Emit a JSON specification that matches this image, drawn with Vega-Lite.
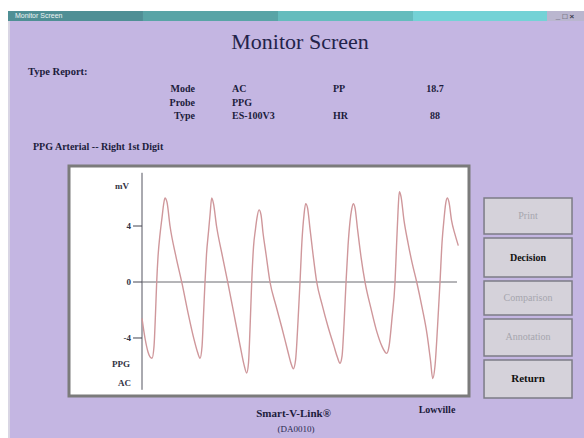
{
  "$schema": "https://vega.github.io/schema/vega-lite/v6.json",
  "width": 400,
  "height": 230,
  "autosize": {"type": "none"},
  "padding": {"left": 69, "top": 166, "right": 115, "bottom": 42},
  "background": "#c4b6e2",
  "config": {
    "view": {"fill": "white", "stroke": "#7b7b7b", "strokeWidth": 3},
    "text": {"font": "Liberation Serif", "color": "#1c1c3c"}
  },
  "datasets": {
    "wave": [
      {"t": 0.000, "v": -2.6}, {"t": 0.043, "v": -4.0}, {"t": 0.087, "v": -5.0}, {"t": 0.116, "v": -5.35}, {"t": 0.145, "v": -5.45},
      {"t": 0.174, "v": -4.6}, {"t": 0.196, "v": -2.2}, {"t": 0.213, "v": 0}, {"t": 0.232, "v": 1.8}, {"t": 0.261, "v": 3.4},
      {"t": 0.290, "v": 4.6}, {"t": 0.312, "v": 5.5}, {"t": 0.333, "v": 6.0}, {"t": 0.362, "v": 5.7}, {"t": 0.406, "v": 4.0},
      {"t": 0.493, "v": 1.8}, {"t": 0.580, "v": -0.1}, {"t": 0.667, "v": -2.2}, {"t": 0.754, "v": -4.1}, {"t": 0.804, "v": -5.0},
      {"t": 0.841, "v": -5.45},
      {"t": 0.870, "v": -4.6}, {"t": 0.891, "v": -2.4}, {"t": 0.913, "v": 0}, {"t": 0.935, "v": 2.0}, {"t": 0.964, "v": 3.6},
      {"t": 0.986, "v": 4.8}, {"t": 1.010, "v": 6.0}, {"t": 1.036, "v": 5.6}, {"t": 1.080, "v": 4.0}, {"t": 1.159, "v": 2.0},
      {"t": 1.246, "v": -0.1}, {"t": 1.333, "v": -2.3}, {"t": 1.420, "v": -4.5}, {"t": 1.478, "v": -5.9}, {"t": 1.517, "v": -6.5},
      {"t": 1.543, "v": -5.8}, {"t": 1.565, "v": -3.4}, {"t": 1.590, "v": 0}, {"t": 1.616, "v": 2.5}, {"t": 1.645, "v": 3.8},
      {"t": 1.667, "v": 4.6}, {"t": 1.696, "v": 5.15}, {"t": 1.725, "v": 4.8}, {"t": 1.754, "v": 3.5}, {"t": 1.797, "v": 2.0},
      {"t": 1.855, "v": 0}, {"t": 1.942, "v": -1.7}, {"t": 2.029, "v": -3.3}, {"t": 2.116, "v": -5.0}, {"t": 2.159, "v": -5.8},
      {"t": 2.193, "v": -6.2},
      {"t": 2.225, "v": -5.6}, {"t": 2.261, "v": -2.8}, {"t": 2.290, "v": 0}, {"t": 2.319, "v": 3.0}, {"t": 2.348, "v": 4.8},
      {"t": 2.372, "v": 5.6}, {"t": 2.399, "v": 5.3}, {"t": 2.435, "v": 3.8}, {"t": 2.478, "v": 2.0}, {"t": 2.532, "v": 0},
      {"t": 2.609, "v": -1.6}, {"t": 2.696, "v": -3.2}, {"t": 2.783, "v": -4.6}, {"t": 2.833, "v": -5.4}, {"t": 2.870, "v": -5.8},
      {"t": 2.899, "v": -5.3}, {"t": 2.928, "v": -3.0}, {"t": 2.957, "v": 0}, {"t": 2.986, "v": 2.6}, {"t": 3.014, "v": 4.3},
      {"t": 3.039, "v": 5.2}, {"t": 3.062, "v": 5.6}, {"t": 3.087, "v": 5.3}, {"t": 3.123, "v": 3.8}, {"t": 3.174, "v": 1.8},
      {"t": 3.232, "v": 0}, {"t": 3.319, "v": -1.9}, {"t": 3.406, "v": -3.6}, {"t": 3.478, "v": -4.6}, {"t": 3.522, "v": -5.0},
      {"t": 3.546, "v": -5.1},
      {"t": 3.580, "v": -4.6}, {"t": 3.623, "v": -2.6}, {"t": 3.667, "v": 0}, {"t": 3.688, "v": 2.5}, {"t": 3.710, "v": 5.0},
      {"t": 3.729, "v": 6.45}, {"t": 3.754, "v": 6.1}, {"t": 3.797, "v": 4.4}, {"t": 3.855, "v": 2.8}, {"t": 3.913, "v": 1.4},
      {"t": 3.981, "v": 0}, {"t": 4.058, "v": -1.8}, {"t": 4.130, "v": -3.7}, {"t": 4.181, "v": -5.6}, {"t": 4.213, "v": -6.9},
      {"t": 4.246, "v": -6.0}, {"t": 4.283, "v": -3.2}, {"t": 4.319, "v": 0}, {"t": 4.348, "v": 2.8}, {"t": 4.377, "v": 4.5},
      {"t": 4.401, "v": 5.6}, {"t": 4.425, "v": 6.0}, {"t": 4.449, "v": 5.7}, {"t": 4.486, "v": 4.4}, {"t": 4.536, "v": 3.4},
      {"t": 4.584, "v": 2.6}
    ],
    "ticks": [{"v": 4, "lab": "4"}, {"v": 0, "lab": "0"}, {"v": -4, "lab": "-4"}],
    "one": [{"k": 1}]
  },
  "data": {"name": "one"},
  "layer": [
    {"mark": {"type": "rect", "color": "white"},
     "encoding": {"x": {"datum": -2.058, "axis": null}, "x2": {"datum": 6.406}, "y": {"datum": 20.143, "axis": null}, "y2": {"datum": 19.357}}},
    {"mark": {"type": "rect", "color": "white"},
     "encoding": {"x": {"datum": -2.058, "axis": null}, "x2": {"datum": -1.942}, "y": {"datum": 20.143, "axis": null}, "y2": {"datum": -11.143}}},
    {"mark": {"type": "rect", "color": "#d9d6e4"},
     "encoding": {"x": {"datum": -1.942, "axis": null}, "x2": {"datum": -1.913}, "y": {"datum": 19.357, "axis": null}, "y2": {"datum": -11.143}}},
    {"mark": {"type": "rect", "color": "#4f8f95"},
     "encoding": {"x": {"datum": -1.942, "axis": null}, "x2": {"datum": 0.014}, "y": {"datum": 19.357, "axis": null}, "y2": {"datum": 18.643}}},
    {"mark": {"type": "rect", "color": "#59a4a6"},
     "encoding": {"x": {"datum": 0.014, "axis": null}, "x2": {"datum": 1.971}, "y": {"datum": 19.357, "axis": null}, "y2": {"datum": 18.643}}},
    {"mark": {"type": "rect", "color": "#65bcbd"},
     "encoding": {"x": {"datum": 1.971, "axis": null}, "x2": {"datum": 3.928}, "y": {"datum": 19.357, "axis": null}, "y2": {"datum": 18.643}}},
    {"mark": {"type": "rect", "color": "#74d2d6"},
     "encoding": {"x": {"datum": 3.928, "axis": null}, "x2": {"datum": 5.870}, "y": {"datum": 19.357, "axis": null}, "y2": {"datum": 18.643}}},
    {"mark": {"type": "rect", "color": "#bab6cf"},
     "encoding": {"x": {"datum": 5.870, "axis": null}, "x2": {"datum": 6.406}, "y": {"datum": 19.357, "axis": null}, "y2": {"datum": 18.643}}},
    {"mark": {"type": "text", "text": "Monitor Screen", "font": "Liberation Sans", "fontSize": 7, "color": "#eef4f4", "align": "left", "baseline": "middle"},
     "encoding": {"x": {"datum": -1.841, "axis": null}, "y": {"datum": 19.0, "axis": null}}},
    {"mark": {"type": "text", "text": "_ \u25a1 \u00d7", "font": "Liberation Sans", "fontSize": 8, "fontWeight": "bold", "color": "#3a3a4a", "align": "center", "baseline": "middle"},
     "encoding": {"x": {"datum": 6.130, "axis": null}, "y": {"datum": 18.95, "axis": null}}},
    {"mark": {"type": "text", "text": "Monitor Screen", "fontSize": 22, "color": "#23234a", "align": "center", "baseline": "middle"},
     "encoding": {"x": {"datum": 2.290, "axis": null}, "y": {"datum": 17.143, "axis": null}}},
    {"mark": {"type": "text", "text": "Type Report:", "fontSize": 10.5, "fontWeight": "bold", "align": "left", "baseline": "middle"},
     "encoding": {"x": {"datum": -1.652, "axis": null}, "y": {"datum": 15.0, "axis": null}}},
    {"mark": {"type": "text", "text": ["Mode", "Probe", "Type"], "lineHeight": 13.5, "fontSize": 10, "fontWeight": "bold", "align": "right", "baseline": "middle"},
     "encoding": {"x": {"datum": 0.768, "axis": null}, "y": {"datum": 13.76, "axis": null}}},
    {"mark": {"type": "text", "text": ["AC", "PPG", "ES-100V3"], "lineHeight": 13.5, "fontSize": 10, "fontWeight": "bold", "align": "left", "baseline": "middle"},
     "encoding": {"x": {"datum": 1.304, "axis": null}, "y": {"datum": 13.76, "axis": null}}},
    {"mark": {"type": "text", "text": "PP", "fontSize": 10, "fontWeight": "bold", "align": "left", "baseline": "middle"},
     "encoding": {"x": {"datum": 2.768, "axis": null}, "y": {"datum": 13.76, "axis": null}}},
    {"mark": {"type": "text", "text": "HR", "fontSize": 10, "fontWeight": "bold", "align": "left", "baseline": "middle"},
     "encoding": {"x": {"datum": 2.768, "axis": null}, "y": {"datum": 11.83, "axis": null}}},
    {"mark": {"type": "text", "text": "18.7", "fontSize": 10, "fontWeight": "bold", "align": "center", "baseline": "middle"},
     "encoding": {"x": {"datum": 4.246, "axis": null}, "y": {"datum": 13.76, "axis": null}}},
    {"mark": {"type": "text", "text": "88", "fontSize": 10, "fontWeight": "bold", "align": "center", "baseline": "middle"},
     "encoding": {"x": {"datum": 4.246, "axis": null}, "y": {"datum": 11.83, "axis": null}}},
    {"mark": {"type": "text", "text": "PPG Arterial -- Right 1st Digit", "fontSize": 10, "fontWeight": "bold", "align": "left", "baseline": "middle"},
     "encoding": {"x": {"datum": -1.580, "axis": null}, "y": {"datum": 9.643, "axis": null}}},
    {"mark": {"type": "text", "text": "mV", "fontSize": 9, "fontWeight": "bold", "color": "#333344", "align": "right", "baseline": "middle"},
     "encoding": {"x": {"datum": -0.188, "axis": null}, "y": {"datum": 6.857, "axis": null}}},
    {"mark": {"type": "text", "text": "PPG", "fontSize": 9, "fontWeight": "bold", "color": "#333344", "align": "right", "baseline": "middle"},
     "encoding": {"x": {"datum": -0.174, "axis": null}, "y": {"datum": -5.857, "axis": null}}},
    {"mark": {"type": "text", "text": "AC", "fontSize": 9, "fontWeight": "bold", "color": "#333344", "align": "right", "baseline": "middle"},
     "encoding": {"x": {"datum": -0.159, "axis": null}, "y": {"datum": -7.214, "axis": null}}},
    {"mark": {"type": "text", "text": "Smart-V-Link\u00ae", "fontSize": 11, "fontWeight": "bold", "align": "center", "baseline": "middle"},
     "encoding": {"x": {"datum": 2.196, "axis": null}, "y": {"datum": -9.43, "axis": null}}},
    {"mark": {"type": "text", "text": "(DA0010)", "fontSize": 9, "color": "#2a2a50", "align": "center", "baseline": "middle"},
     "encoding": {"x": {"datum": 2.232, "axis": null}, "y": {"datum": -10.5, "axis": null}}},
    {"mark": {"type": "text", "text": "Lowville", "fontSize": 10, "fontWeight": "bold", "align": "center", "baseline": "middle"},
     "encoding": {"x": {"datum": 4.275, "axis": null}, "y": {"datum": -9.143, "axis": null}}},
    {"mark": {"type": "rect", "color": "#d5d2da", "stroke": "#7c7c86", "strokeWidth": 1.5},
     "encoding": {"x": {"datum": 4.957, "axis": null}, "x2": {"datum": 6.232}, "y": {"datum": 6.0, "axis": null}, "y2": {"datum": 3.429}}},
    {"mark": {"type": "rect", "color": "#d5d2da", "stroke": "#7c7c86", "strokeWidth": 1.5},
     "encoding": {"x": {"datum": 4.957, "axis": null}, "x2": {"datum": 6.232}, "y": {"datum": 3.143, "axis": null}, "y2": {"datum": 0.357}}},
    {"mark": {"type": "rect", "color": "#d5d2da", "stroke": "#7c7c86", "strokeWidth": 1.5},
     "encoding": {"x": {"datum": 4.957, "axis": null}, "x2": {"datum": 6.232}, "y": {"datum": 0.071, "axis": null}, "y2": {"datum": -2.357}}},
    {"mark": {"type": "rect", "color": "#d5d2da", "stroke": "#7c7c86", "strokeWidth": 1.5},
     "encoding": {"x": {"datum": 4.957, "axis": null}, "x2": {"datum": 6.232}, "y": {"datum": -2.643, "axis": null}, "y2": {"datum": -5.286}}},
    {"mark": {"type": "rect", "color": "#d5d2da", "stroke": "#7c7c86", "strokeWidth": 1.5},
     "encoding": {"x": {"datum": 4.957, "axis": null}, "x2": {"datum": 6.232}, "y": {"datum": -5.571, "axis": null}, "y2": {"datum": -8.286}}},
    {"mark": {"type": "text", "text": "Print", "fontSize": 10, "color": "#a6a6ae", "align": "center", "baseline": "middle"},
     "encoding": {"x": {"datum": 5.594, "axis": null}, "y": {"datum": 4.714, "axis": null}}},
    {"mark": {"type": "text", "text": "Decision", "fontSize": 10, "fontWeight": "bold", "color": "#111111", "align": "center", "baseline": "middle"},
     "encoding": {"x": {"datum": 5.594, "axis": null}, "y": {"datum": 1.75, "axis": null}}},
    {"mark": {"type": "text", "text": "Comparison", "fontSize": 10, "color": "#a6a6ae", "align": "center", "baseline": "middle"},
     "encoding": {"x": {"datum": 5.594, "axis": null}, "y": {"datum": -1.143, "axis": null}}},
    {"mark": {"type": "text", "text": "Annotation", "fontSize": 10, "color": "#a6a6ae", "align": "center", "baseline": "middle"},
     "encoding": {"x": {"datum": 5.594, "axis": null}, "y": {"datum": -3.964, "axis": null}}},
    {"mark": {"type": "text", "text": "Return", "fontSize": 11, "fontWeight": "bold", "color": "#111111", "align": "center", "baseline": "middle"},
     "encoding": {"x": {"datum": 5.594, "axis": null}, "y": {"datum": -6.929, "axis": null}}},
    {"mark": {"type": "rule", "color": "#555560", "strokeWidth": 1},
     "encoding": {"x": {"datum": 0, "axis": null}, "y": {"datum": -7.7, "axis": null}, "y2": {"datum": 7.8}}},
    {"mark": {"type": "rule", "color": "#6a6a70", "strokeWidth": 1},
     "encoding": {"x": {"datum": 0, "axis": null}, "x2": {"datum": 4.565}, "y": {"datum": 0, "axis": null}}},
    {"data": {"name": "ticks"},
     "mark": {"type": "rule", "color": "#444450", "strokeWidth": 1},
     "encoding": {"x": {"datum": -0.130, "axis": null}, "x2": {"datum": 0}, "y": {"field": "v", "type": "quantitative", "axis": null}}},
    {"data": {"name": "ticks"},
     "mark": {"type": "text", "fontSize": 9, "fontWeight": "bold", "color": "#333344", "align": "right", "baseline": "middle"},
     "encoding": {"x": {"datum": -0.159, "axis": null}, "y": {"field": "v", "type": "quantitative", "axis": null}, "text": {"field": "lab"}}},
    {
      "data": {"name": "wave"},
      "mark": {"type": "line", "color": "#cf979b", "strokeWidth": 1.4, "interpolate": "monotone"},
      "encoding": {
        "x": {"field": "t", "type": "quantitative", "scale": {"domain": [-1.058, 4.739], "nice": false, "zero": false}, "axis": null},
        "y": {"field": "v", "type": "quantitative", "scale": {"domain": [-8.143, 8.286], "nice": false, "zero": false}, "axis": null}
      }
    }
  ]
}
